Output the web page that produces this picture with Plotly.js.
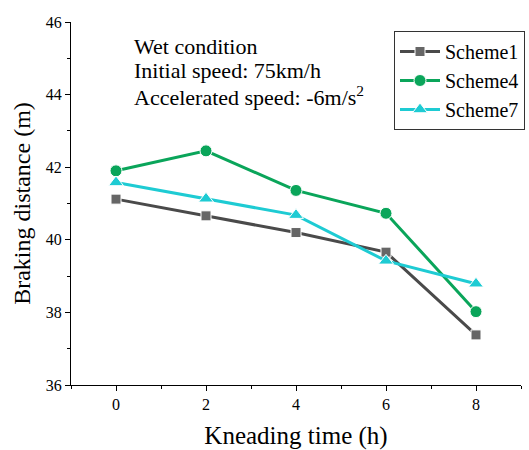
<!DOCTYPE html>
<html>
<head>
<meta charset="utf-8">
<script src="https://cdn.plot.ly/plotly-3.0.1.min.js"></script>
<style>html,body{margin:0;padding:0;background:#fff;}#chart{width:529px;height:450px;}</style>
</head>
<body>
<div id="chart"></div>
<script>
const kneadingTime = [0, 2, 4, 6, 8];
const scheme1 = [41.12, 40.66, 40.2, 39.66, 37.38];
const scheme4 = [41.9, 42.45, 41.36, 40.73, 38.02];
const scheme7 = [41.58, 41.13, 40.68, 39.42, 38.79];
const seriesNames = ['Scheme1', 'Scheme4', 'Scheme7'];
const infoLines = ['Wet condition', 'Initial speed: 75km/h', 'Accelerated speed: -6m/s<sup>2</sup>'];

const serif = 'Liberation Serif, Times New Roman, serif';

function trace(name, y, lineColor, markerColor, symbol, size) {
  return {
    x: kneadingTime, y: y, name: name, type: 'scatter', mode: 'lines+markers',
    line: {color: lineColor, width: 3},
    marker: {symbol: symbol, size: size, color: markerColor, line: {color: '#ffffff', width: 1}},
    cliponaxis: false
  };
}

const data = [
  trace(seriesNames[0], scheme1, '#4a4a4a', '#666666', 'square', 10),
  trace(seriesNames[1], scheme4, '#0aa55a', '#0aa55a', 'circle', 12),
  trace(seriesNames[2], scheme7, '#1ecbd3', '#1ecbd3', 'triangle-up', 13)
];

const annotations = infoLines.map((t, i) => ({
  text: t, xref: 'paper', yref: 'paper', x: (132 - 71) / 450, y: (385 - [46, 70, 96][i]) / 363,
  xanchor: 'left', yanchor: 'middle', showarrow: false,
  font: {family: serif, size: 22, color: '#000'}
}));

const layout = {
  width: 529, height: 450,
  margin: {l: 71, r: 8, t: 22, b: 65, autoexpand: false},
  paper_bgcolor: '#fff', plot_bgcolor: '#fff',
  showlegend: true,
  legend: {
    x: (394 - 71) / 450, y: (385 - 31) / 363, xanchor: 'left', yanchor: 'top',
    bordercolor: '#333', borderwidth: 1, bgcolor: '#fff',
    font: {family: serif, size: 20, color: '#000'},
    itemwidth: 40,
    tracegroupgap: 0
  },
  xaxis: {
    range: [-1, 9], tickvals: kneadingTime, ticktext: kneadingTime.map(String),
    showgrid: false, zeroline: false, showline: true, linecolor: '#000', linewidth: 1,
    ticks: 'outside', ticklen: 5, tickcolor: '#000',
    minor: {dtick: 1, tick0: -1, ticks: 'outside', ticklen: 3, tickcolor: '#000', showgrid: false},
    tickfont: {family: serif, size: 16, color: '#000'},
    title: {text: 'Kneading time (h)', font: {family: serif, size: 25, color: '#000'}, standoff: 19}
  },
  yaxis: {
    range: [36, 46], dtick: 2, tick0: 36,
    showgrid: false, zeroline: false, showline: true, linecolor: '#000', linewidth: 1,
    ticks: 'outside', ticklen: 5, tickcolor: '#000',
    minor: {dtick: 1, ticks: 'outside', ticklen: 3, tickcolor: '#000', showgrid: false},
    tickfont: {family: serif, size: 16, color: '#000'},
    title: {text: 'Braking distance (m)', font: {family: serif, size: 24, color: '#000'}, standoff: 8}
  },
  annotations: annotations
};

Plotly.newPlot('chart', data, layout, {displayModeBar: false, staticPlot: true});
</script>
</body>
</html>
